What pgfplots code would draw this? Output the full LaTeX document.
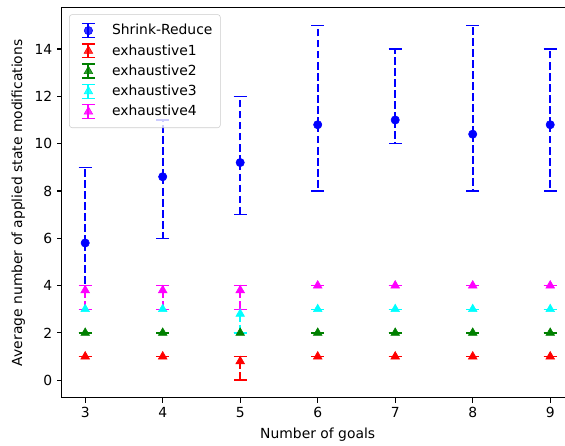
\documentclass[border=0pt]{standalone}
\usepackage{fontspec}
\setmainfont{DejaVu Sans}
\usepackage{pgfplots}
\pgfplotsset{compat=1.18}
\definecolor{mgreen}{rgb}{0,0.5,0}
\definecolor{mcyan}{rgb}{0,1,1}
\definecolor{mmag}{rgb}{1,0,1}
\definecolor{legframe}{rgb}{0.8,0.8,0.8}
\pgfplotsset{
  ebar/.style 2 args={
    only marks,
    color=#1,
    mark=#2,
    mark options={solid, fill=#1, draw=#1},
    error bars/y dir=both,
    error bars/y explicit,
    error bars/error bar style={line width=1.5pt, dash pattern=on 5.55pt off 2.4pt, color=#1},
    error bars/error mark=-,
    error bars/error mark options={rotate=90, solid, line width=1pt, mark size=4.7pt, color=#1},
    legend image code/.code={
      \path[draw=none, fill=none] (0pt,0pt) -- (25pt,0pt);
      \draw[draw=#1, solid, line width=1.5pt] (10pt,-5pt) -- (10pt,5pt);
      \draw[draw=#1, solid, line width=1pt] (10pt-4.7pt,-5pt) -- (10pt+4.7pt,-5pt);
      \draw[draw=#1, solid, line width=1pt] (10pt-4.7pt,5pt) -- (10pt+4.7pt,5pt);
      \draw[##1, only marks] plot coordinates {(10pt,0pt)};
    },
  },
}
\begin{document}
\fontsize{10}{12}\selectfont
\begin{tikzpicture}
\begin{axis}[
  scale only axis,
  width=368.3pt, height=281pt,
  xmin=2.7, xmax=9.3, ymin=-0.75, ymax=15.75,
  xtick={3,4,5,6,7,8,9},
  ytick={0,2,4,6,8,10,12,14},
  xtick pos=bottom, ytick pos=left,
  tick align=outside,
  major tick length=3.5pt,
  tick style={black, line width=0.8pt},
  axis line style={black, line width=0.8pt},
  /pgf/number format/assume math mode=true,
  ticklabel style={font=\fontsize{10}{12}\selectfont},
  label style={font=\fontsize{10}{12}\selectfont},
  xlabel={Number of goals},
  ylabel={Average number of applied state modifications},
  legend cell align=left,
  legend style={at={(0.014,0.983)}, anchor=north west, draw=legframe,
    rounded corners=2pt, fill=white, fill opacity=0.8, text opacity=1,
    font=\fontsize{10}{12}\selectfont, row sep=1.5pt, inner xsep=3.7pt, inner ysep=5pt},
]
\addplot[ebar={blue}{*}, mark size=3pt] coordinates {
  (3,5.8) += (0,3.2) -= (0,1.8)
  (4,8.6) += (0,2.4) -= (0,2.6)
  (5,9.2) += (0,2.8) -= (0,2.2)
  (6,10.8) += (0,4.2) -= (0,2.8)
  (7,11.0) += (0,3.0) -= (0,1.0)
  (8,10.4) += (0,4.6) -= (0,2.4)
  (9,10.8) += (0,3.2) -= (0,2.8)
};
\addlegendentry{Shrink-Reduce}
\addplot[ebar={red}{triangle*}, mark size=3.6pt] coordinates {
  (3,1) += (0,0) -= (0,0)
  (4,1) += (0,0) -= (0,0)
  (5,0.8) += (0,0.2) -= (0,0.8)
  (6,1) += (0,0) -= (0,0)
  (7,1) += (0,0) -= (0,0)
  (8,1) += (0,0) -= (0,0)
  (9,1) += (0,0) -= (0,0)
};
\addlegendentry{exhaustive1}
\addplot[ebar={mgreen}{triangle*}, mark size=3.6pt] coordinates {
  (3,2) += (0,0) -= (0,0)
  (4,2) += (0,0) -= (0,0)
  (5,2) += (0,0) -= (0,0)
  (6,2) += (0,0) -= (0,0)
  (7,2) += (0,0) -= (0,0)
  (8,2) += (0,0) -= (0,0)
  (9,2) += (0,0) -= (0,0)
};
\addlegendentry{exhaustive2}
\addplot[ebar={mcyan}{triangle*}, mark size=3.6pt] coordinates {
  (3,3) += (0,0) -= (0,0)
  (4,3) += (0,0) -= (0,0)
  (5,2.8) += (0,0.2) -= (0,0.8)
  (6,3) += (0,0) -= (0,0)
  (7,3) += (0,0) -= (0,0)
  (8,3) += (0,0) -= (0,0)
  (9,3) += (0,0) -= (0,0)
};
\addlegendentry{exhaustive3}
\addplot[ebar={mmag}{triangle*}, mark size=3.6pt] coordinates {
  (3,3.8) += (0,0.2) -= (0,0.8)
  (4,3.8) += (0,0.2) -= (0,0.8)
  (5,3.8) += (0,0.2) -= (0,0.8)
  (6,4) += (0,0) -= (0,0)
  (7,4) += (0,0) -= (0,0)
  (8,4) += (0,0) -= (0,0)
  (9,4) += (0,0) -= (0,0)
};
\addlegendentry{exhaustive4}
\coordinate (bl) at (rel axis cs:0,0);
\coordinate (tl) at (rel axis cs:0,1);
\end{axis}
\pgfresetboundingbox
\path ([xshift=-44.6pt,yshift=-34.6pt]bl) rectangle ([xshift=362.2pt,yshift=5.5pt]tl);
\end{tikzpicture}
\end{document}
